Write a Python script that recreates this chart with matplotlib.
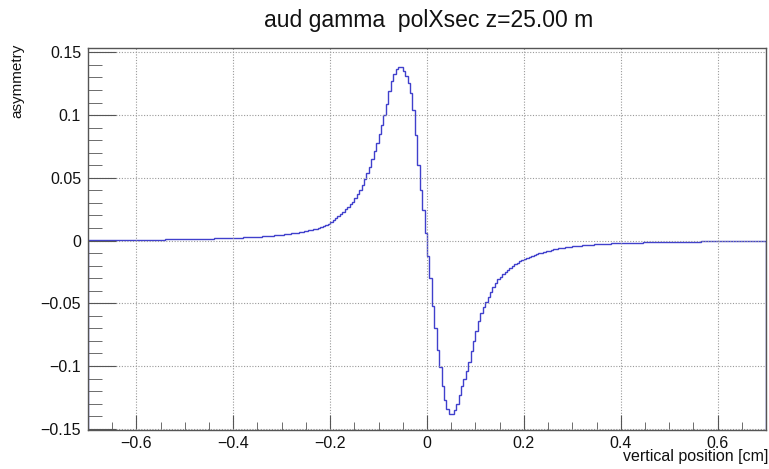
import numpy as np
import matplotlib
matplotlib.use("Agg")
import matplotlib.pyplot as plt
from matplotlib.ticker import MultipleLocator, FuncFormatter

# Histogram definition: 280 bins of 0.005 cm from -0.7 to 0.7 cm
x_low, x_high, n_bins = -0.7, 0.7, 280

# Bin contents, negative positions (-0.7 .. 0)
asym_neg = [
    0.0003, 0.0003, 0.0003, 0.0003, 0.0003, 0.0003, 0.0004, 0.0004, 0.0004, 0.0004,
    0.0004, 0.0004, 0.0004, 0.0005, 0.0005, 0.0005, 0.0005, 0.0005, 0.0005, 0.0006,
    0.0006, 0.0006, 0.0006, 0.0006, 0.0007, 0.0007, 0.0007, 0.0007, 0.0008, 0.0008,
    0.0008, 0.0008, 0.0009, 0.0009, 0.0009, 0.0010, 0.0010, 0.0010, 0.0011, 0.0011,
    0.0011, 0.0012, 0.0012, 0.0012, 0.0013, 0.0013, 0.0014, 0.0014, 0.0015, 0.0015,
    0.0016, 0.0016, 0.0017, 0.0017, 0.0018, 0.0018, 0.0019, 0.0020, 0.0020, 0.0021,
    0.0022, 0.0022, 0.0023, 0.0024, 0.0025, 0.0026, 0.0027, 0.0028, 0.0029, 0.0030,
    0.0031, 0.0032, 0.0034, 0.0035, 0.0036, 0.0038, 0.0040, 0.0041, 0.0043, 0.0045,
    0.0047, 0.0049, 0.0052, 0.0054, 0.0057, 0.0059, 0.0062, 0.0066, 0.0069, 0.0073,
    0.0077, 0.0081, 0.0086, 0.0091, 0.0096, 0.0102, 0.0110, 0.0117, 0.0125, 0.0134,
    0.0150, 0.0165, 0.0180, 0.0196, 0.0214, 0.0230, 0.0248, 0.0268, 0.0289, 0.0310,
    0.0340, 0.0370, 0.0400, 0.0445, 0.0490, 0.0540, 0.0590, 0.0650, 0.0710, 0.0780,
    0.0850, 0.0920, 0.1000, 0.1090, 0.1190, 0.1270, 0.1330, 0.1370, 0.1385, 0.1385,
    0.1355, 0.1310, 0.1255, 0.1180, 0.1040, 0.0840, 0.0600, 0.0400, 0.0240, 0.0060,
]

# Bin contents, positive positions (0 .. 0.7)
asym_pos = [
    -0.0120, -0.0300, -0.0520, -0.0700, -0.0870, -0.1010, -0.1160, -0.1270, -0.1340, -0.1385,
    -0.1385, -0.1350, -0.1300, -0.1230, -0.1160, -0.1100, -0.1040, -0.0970, -0.0880, -0.0800,
    -0.0720, -0.0640, -0.0580, -0.0530, -0.0490, -0.0450, -0.0410, -0.0370, -0.0340, -0.0310,
    -0.0290, -0.0270, -0.0250, -0.0235, -0.0220, -0.0205, -0.0190, -0.0178, -0.0166, -0.0155,
    -0.0148, -0.0140, -0.0132, -0.0124, -0.0116, -0.0109, -0.0102, -0.0096, -0.0090, -0.0085,
    -0.0080, -0.0075, -0.0071, -0.0067, -0.0063, -0.0060, -0.0057, -0.0054, -0.0051, -0.0048,
    -0.0046, -0.0044, -0.0042, -0.0040, -0.0038, -0.0036, -0.0035, -0.0033, -0.0032, -0.0031,
    -0.0029, -0.0028, -0.0027, -0.0026, -0.0025, -0.0024, -0.0023, -0.0022, -0.0022, -0.0021,
    -0.0020, -0.0020, -0.0019, -0.0018, -0.0018, -0.0017, -0.0017, -0.0016, -0.0016, -0.0015,
    -0.0015, -0.0014, -0.0014, -0.0013, -0.0013, -0.0013, -0.0012, -0.0012, -0.0012, -0.0011,
    -0.0011, -0.0011, -0.0010, -0.0010, -0.0010, -0.0009, -0.0009, -0.0009, -0.0009, -0.0008,
    -0.0008, -0.0008, -0.0008, -0.0007, -0.0007, -0.0007, -0.0007, -0.0007, -0.0006, -0.0006,
    -0.0006, -0.0006, -0.0006, -0.0006, -0.0006, -0.0005, -0.0005, -0.0005, -0.0005, -0.0005,
    -0.0005, -0.0005, -0.0005, -0.0004, -0.0004, -0.0004, -0.0004, -0.0004, -0.0004, -0.0004,
]

title = "aud gamma  polXsec z=25.00 m"
x_title = "vertical position [cm]"
y_title = "asymmetry"
y_range = (-0.151, 0.1535)

values = np.array(asym_neg + asym_pos)
edges = np.linspace(x_low, x_high, n_bins + 1)

plt.rcParams["font.family"] = ["Liberation Sans", "DejaVu Sans"]
fig = plt.figure(figsize=(7.69, 4.69), dpi=100)
ax = fig.add_axes([0.1144, 0.0832, 0.8818, 0.8145])

ax.stairs(values, edges, baseline=y_range[0], color="#4040cc", lw=1.0)

ax.set_xlim(x_low, x_high)
ax.set_ylim(*y_range)

ax.xaxis.set_major_locator(MultipleLocator(0.2))
ax.xaxis.set_minor_locator(MultipleLocator(0.05))
ax.yaxis.set_major_locator(MultipleLocator(0.05))
ax.yaxis.set_minor_locator(MultipleLocator(0.01))


def fmt(v, _):
    if abs(v) < 1e-9:
        return "0"
    s = f"{v:.2f}".rstrip("0").rstrip(".")
    return s.replace("-", "\u2212")


ax.xaxis.set_major_formatter(FuncFormatter(fmt))
ax.yaxis.set_major_formatter(FuncFormatter(fmt))

ax.grid(True, which="major", color="#9a9a9a", ls=(0, (1, 1.5)), lw=0.8)
ax.tick_params(axis="both", which="both", direction="in", top=False, right=False,
               color="#555555", labelsize=11.5, labelcolor="#111111")
ax.tick_params(axis="x", which="major", length=11, pad=4)
ax.tick_params(axis="x", which="minor", length=5.5)
ax.tick_params(axis="y", which="major", length=20, pad=5)
ax.tick_params(axis="y", which="minor", length=10)
for sp in ax.spines.values():
    sp.set_color("#555555")
    sp.set_linewidth(1.0)

fig.text(0.557, 0.957, title, ha="center", va="center", fontsize=16.5, color="#111111")
fig.text(0.999, 0.026, x_title, ha="right", va="center", fontsize=11.5, color="#111111")
fig.text(0.023, 0.908, y_title, ha="center", va="top", rotation=90, fontsize=11,
         color="#111111")

fig.savefig("out.png", dpi=100, facecolor="white")
